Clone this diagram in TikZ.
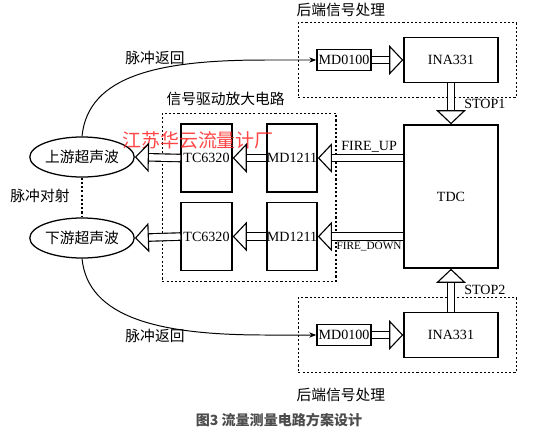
\documentclass[tikz,border=0pt]{standalone}
\usepackage{fontspec}
\setmainfont{Liberation Serif}
\newfontfamily\cjk{Noto Sans CJK SC}
\usetikzlibrary{shapes.geometric, arrows.meta, positioning, fit}

\begin{document}
\begin{tikzpicture}[x=0.025cm, y=-0.025cm, font=\fontsize{10}{12}\selectfont,
    chip/.style={rectangle, draw, line width=1pt, inner sep=0pt},
    probe/.style={ellipse, draw, line width=0.9pt, inner sep=0pt, minimum width=2.125cm, minimum height=1cm, font=\cjk\fontsize{10.5}{12}\selectfont},
    group/.style={draw, line width=1pt, dash pattern=on 1.5pt off 1.5pt, inner xsep=0.45cm, inner ysep=0.35cm},
    fat/.style={draw, double, double distance=4.5pt, line width=0.8pt, -{Triangle[open, width=21pt, length=10pt, line width=0.8pt]}},
    thin/.style={draw, line width=0.7pt, -{Stealth[length=5pt]}},
    cn/.style={font=\cjk\fontsize{10.5}{12}\selectfont}
]
    \useasboundingbox (0,0) rectangle (535,437);

    % Back-end signal processing (top)
    \node [chip, minimum width=1.35cm, minimum height=0.525cm] (mdA) at (344,60) {MD0100};
    \node [chip, minimum width=2.35cm, minimum height=1.125cm] (inaA) at (451,60) {INA331};
    \node [group, fit=(mdA) (inaA)] (backA) {};
    \node [cn, above right=0.02cm and -0.15cm of backA.north west] (backAlbl) {后端信号处理};

    % TDC
    \node [chip, minimum width=2.35cm, minimum height=3.575cm] (tdc) at (451,196.5) {TDC};

    % Drive and amplifier
    \node [chip, minimum width=1.275cm, minimum height=1.7cm] (tcU) at (206.5,158) {TC6320};
    \node [chip, minimum width=1.25cm, minimum height=1.7cm] (drvU) at (292,158) {MD1211};
    \node [chip, minimum width=1.275cm, minimum height=1.7cm] (tcD) at (206.5,236.5) {TC6320};
    \node [chip, minimum width=1.25cm, minimum height=1.7cm] (drvD) at (292,236.5) {MD1211};
    \node [group, inner ysep=0.25cm, fit=(tcU) (drvU) (tcD) (drvD)] (drive) {};
    \node [cn, above right=0.05cm and 0cm of drive.north west] (drivelbl) {信号驱动放大电路};

    % Transducers
    \node [probe] (up) at (82,157) {上游超声波};
    \node [probe] (down) at (82,238) {下游超声波};
    \node [cn] (duishe) at (40,196) {脉冲对射};

    % Back-end signal processing (bottom)
    \node [chip, minimum width=1.35cm, minimum height=0.525cm] (mdB) at (344,335) {MD0100};
    \node [chip, minimum width=2.35cm, minimum height=1.125cm] (inaB) at (451,335) {INA331};
    \node [group, fit=(mdB) (inaB)] (backB) {};
    \node [cn, below right=0.25cm and -0.15cm of backB.south west] (backBlbl) {后端信号处理};

    % Echo labels
    \node [cn] (echoA) at (155,58) {脉冲返回};
    \node [cn] (echoB) at (155,336) {脉冲返回};

    % Watermark and caption
    \node [font=\cjk\fontsize{13.5}{14}\selectfont, text=red!85!white, opacity=0.85] (mark) at (198,140) {江苏华云流量计厂};
    \node [font=\cjk\bfseries\fontsize{10}{12}\selectfont, text=black!70] (cap) at (279,420) {图3 流量测量电路方案设计};

    % Connections
    \path [thin] (up.north) .. controls (88,75) and (160,60) .. (265,60) -- (mdA.west);
    \path [thin] (down.south) .. controls (88,318) and (160,335) .. (265,335) -- (mdB.west);
    \draw [line width=1pt, dash pattern=on 1.5pt off 1.5pt] (up) -- (down);

    \path [fat] (mdA) -- (inaA);
    \path [fat] (mdB) -- (inaB);
    \path [fat] (inaA) -- node [right=0.2cm] {STOP1} (tdc);
    \path [fat] (inaB) -- node [right=0.2cm] {STOP2} (tdc);

    \path [fat] (tdc.west |- drvU) -- node [above, pos=0.4] {FIRE\_UP} (drvU.east);
    \path [fat] (drvU) -- (tcU);
    \path [fat] (tcU.west) -- (up.east);
    \path [fat] (tdc.west |- drvD) -- node [below, pos=0.4, font=\footnotesize] {FIRE\_DOWN} (drvD.east);
    \path [fat] (drvD) -- (tcD);
    \path [fat] (tcD.west) -- (down.east);

\end{tikzpicture}
\end{document}
